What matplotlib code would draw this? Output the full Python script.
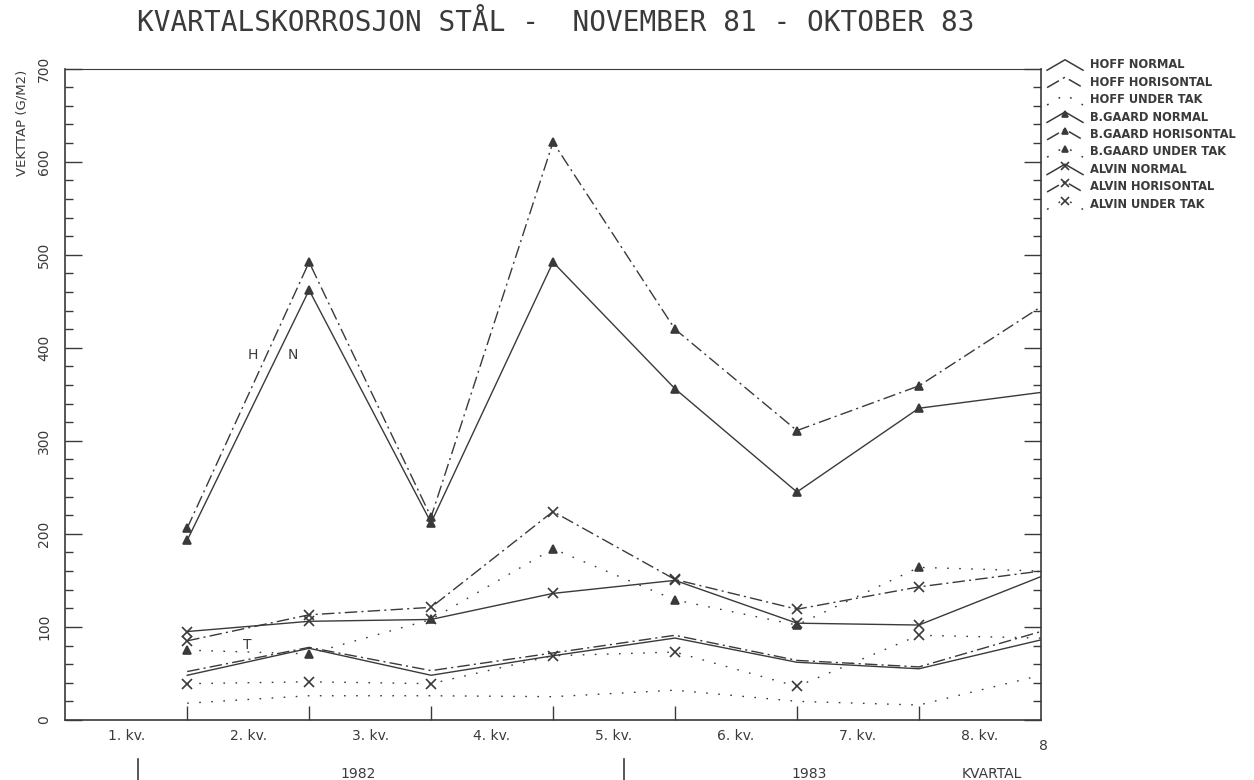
import matplotlib.pyplot as plt
from matplotlib.ticker import MultipleLocator

plt.rcParams['font.family'] = ['DejaVu Sans']

# kvartal 1..8 (nov 81 - okt 83)
kvartal = [1, 2, 3, 4, 5, 6, 7, 8]

hoff_normal = [48, 77, 48, 69, 88, 62, 55, 86]
hoff_horisontal = [52, 78, 53, 72, 91, 64, 57, 95]
hoff_under_tak = [18, 26, 26, 25, 32, 20, 16, 48]
bgaard_normal = [193, 462, 212, 492, 356, 245, 335, 352]
bgaard_horisontal = [206, 492, 218, 621, 420, 311, 359, 444]
bgaard_under_tak = [75, 71, 108, 184, 129, 102, 164, 160]
alvin_normal = [95, 106, 108, 136, 150, 104, 102, 154]
alvin_horisontal = [85, 113, 121, 224, 151, 119, 143, 160]
alvin_under_tak = [39, 41, 39, 69, 73, 36, 91, 88]

kv_labels = ['1. kv.', '2. kv.', '3. kv.', '4. kv.', '5. kv.', '6. kv.', '7. kv.', '8. kv.']
kv_pos = [0.5, 1.5, 2.5, 3.5, 4.5, 5.5, 6.5, 7.5]
years = ['1982', '1983', 'KVARTAL']
year_pos = [2.4, 6.1, 7.6]
year_marks = [0.6, 4.58]

INK = '#3a3a3a'
SOLID = '-'
DASHDOT = (0, (9, 3, 1.5, 3))
DOTTED = (0, (1.2, 7.5))

series = [
    ('HOFF NORMAL', hoff_normal, SOLID, None),
    ('HOFF HORISONTAL', hoff_horisontal, DASHDOT, None),
    ('HOFF UNDER TAK', hoff_under_tak, DOTTED, None),
    ('B.GAARD NORMAL', bgaard_normal, SOLID, '^'),
    ('B.GAARD HORISONTAL', bgaard_horisontal, DASHDOT, '^'),
    ('B.GAARD UNDER TAK', bgaard_under_tak, DOTTED, '^'),
    ('ALVIN NORMAL', alvin_normal, SOLID, 'x'),
    ('ALVIN HORISONTAL', alvin_horisontal, DASHDOT, 'x'),
    ('ALVIN UNDER TAK', alvin_under_tak, DOTTED, 'x'),
]

fig = plt.figure(figsize=(12.54, 7.8), dpi=100)
ax = fig.add_axes([0.052, 0.077, 0.778, 0.835])

for name, vals, ls, mk in series:
    ax.plot(kvartal, vals, color=INK, lw=1.0, ls=ls, marker=mk,
            markevery=slice(0, 7), ms=5.5 if mk == '^' else 7, mew=1.2)

ax.set_xlim(0, 8)
ax.set_ylim(0, 700)
ax.yaxis.set_major_locator(MultipleLocator(100))
ax.yaxis.set_minor_locator(MultipleLocator(20))
ax.set_xticks(kvartal[:-1])
ax.set_xticklabels([])
ax.tick_params(axis='x', direction='in', length=10, width=1, color=INK)
ax.tick_params(axis='y', which='major', direction='in', length=12, width=1,
               color=INK, right=True, labelsize=10, labelcolor=INK, pad=15)
ax.tick_params(axis='y', which='minor', direction='in', length=6, width=1,
               color=INK, right=True)
for lab in ax.get_yticklabels():
    lab.set_rotation(90)
    lab.set_va('center')
    lab.set_ha('center')
for sp in ax.spines.values():
    sp.set_color(INK)
    sp.set_linewidth(1.2)
ax.spines['top'].set_linewidth(0.8)

xt = ax.get_xaxis_transform()
for p, t in zip(kv_pos, kv_labels):
    ax.text(p, -0.025, t, transform=xt, ha='center', va='center',
            fontsize=10, color=INK)
ax.text(8.02, -0.04, '8', transform=xt, ha='center', va='center',
        fontsize=10, color=INK)
for p, t in zip(year_pos, years):
    ax.text(p, -0.083, t, transform=xt, ha='center', va='center',
            fontsize=10, color=INK)
for p in year_marks:
    ax.plot([p, p], [-0.06, -0.11], transform=xt, color=INK, lw=1.2,
            clip_on=False)

ax.text(1.54, 392, 'H', ha='center', va='center', fontsize=10, color=INK)
ax.text(1.87, 392, 'N', ha='center', va='center', fontsize=10, color=INK)
ax.text(1.49, 81, 'T', ha='center', va='center', fontsize=10, color=INK)

fig.text(0.443, 0.97, 'KVARTALSKORROSJON STÅL -  NOVEMBER 81 - OKTOBER 83',
         ha='center', va='center', fontsize=20, color=INK,
         family='DejaVu Sans Mono')
fig.text(0.0175, 0.842, 'VEKTTAP (G/M2)', rotation=90, ha='center',
         va='center', fontsize=9.5, color=INK)

# legend drawn as small chevrons
lax = fig.add_axes([0.8333, 0.7244, 0.1667, 0.2051])
lax.set_xlim(0, 1)
lax.set_ylim(8.62, -0.575)
lax.axis('off')
for i, (name, vals, ls, mk) in enumerate(series):
    lax.plot([0.01, 0.096, 0.182], [i + 0.3, i - 0.3, i + 0.3], color=INK,
             lw=1.1, ls=ls)
    if mk:
        lax.plot([0.096], [i - 0.2], marker=mk, color=INK,
                 ms=5 if mk == '^' else 6, mew=1.2)
    lax.text(0.215, i, name, ha='left', va='center', fontsize=8.3,
             color=INK, fontweight='bold')

fig.savefig('out.png', dpi=100)
